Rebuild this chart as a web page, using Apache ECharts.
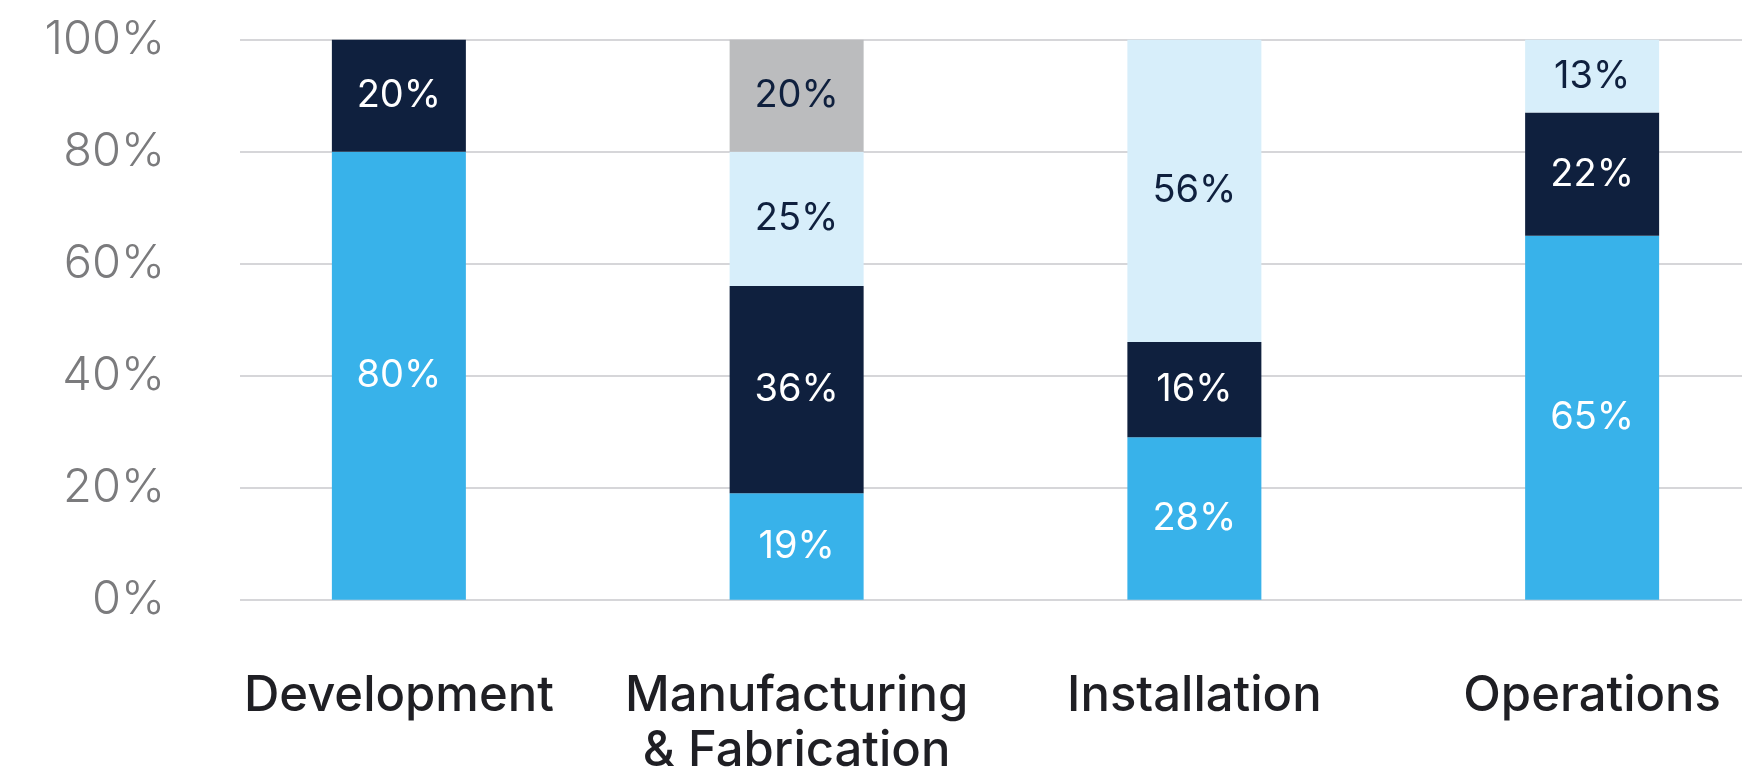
<!DOCTYPE html>
<html>
<head>
<meta charset="utf-8">
<script src="https://cdn.jsdelivr.net/npm/echarts@6/dist/echarts.min.js"></script>
<style>
html,body{margin:0;padding:0;background:#fff;}
#chart{width:1742px;height:779px;}
</style>
</head>
<body>
<div id="chart"></div>
<script>
// ---- data ----
var categories = ['Development', 'Manufacturing\n& Fabrication', 'Installation', 'Operations'];
var yTicks = [0, 20, 40, 60, 80, 100];
// bar segment sizes (% of bar)
var blueValues  = [80, 19, 29, 65];
var navyValues  = [20, 37, 17, 22];
var paleValues  = [null, 24, 54, 13];
var greyValues  = [null, 20, null, null];
// printed labels on the segments
var blueLabels  = [80, 19, 28, 65];
var navyLabels  = [20, 36, 16, 22];
var paleLabels  = [null, 25, 56, 13];
var greyLabels  = [null, 20, null, null];

var FONT = 'Inter, "Noto Sans", sans-serif';
var chart = echarts.init(document.getElementById('chart'));

function seg(name, values, labels, color, textColor) {
  return {
    name: name,
    type: 'bar',
    stack: 'total',
    xAxisIndex: 1,
    yAxisIndex: 1,
    barWidth: 134,
    data: values,
    itemStyle: { color: color },
    label: {
      show: true,
      position: 'inside',
      color: textColor,
      fontFamily: FONT,
      fontSize: 38,
      fontWeight: 400,
      formatter: function (p) {
        var v = labels[p.dataIndex];
        return v == null ? '' : v + '%';
      }
    },
    emphasis: { disabled: true }
  };
}

chart.setOption({
  animation: false,
  backgroundColor: '#ffffff',
  grid: [
    { left: 240, right: 0, top: 39.7, bottom: 179.3, outerBoundsMode: 'none', containLabel: false },
    { left: 200, width: 1591, top: 39.7, bottom: 179.3, outerBoundsMode: 'none', containLabel: false }
  ],
  xAxis: [
    { gridIndex: 0, type: 'value', show: false, min: 0, max: 1 },
    {
      gridIndex: 1,
      type: 'category',
      data: categories,
      axisLine: { show: false },
      axisTick: { show: false },
      axisLabel: {
        margin: 69,
        color: '#1f1f24',
        fontFamily: FONT,
        fontSize: 49,
        fontWeight: 500,
        lineHeight: 55,
        interval: 0
      }
    }
  ],
  yAxis: [
    {
      gridIndex: 0,
      type: 'value',
      min: yTicks[0],
      max: yTicks[yTicks.length - 1],
      interval: 20,
      axisLine: { show: false },
      axisTick: { show: false },
      splitLine: { show: true, lineStyle: { color: '#c9c9cc', width: 1.5 } },
      axisLabel: {
        margin: 75,
        color: '#7b7b7d',
        fontFamily: FONT,
        fontSize: 47,
        fontWeight: 300,
        formatter: '{value}%'
      }
    },
    {
      gridIndex: 1,
      type: 'value',
      min: 0,
      max: 100,
      show: false
    }
  ],
  series: [
    seg('Segment 1', blueValues, blueLabels, '#38b2ea', '#ffffff'),
    seg('Segment 2', navyValues, navyLabels, '#0f203e', '#ffffff'),
    seg('Segment 3', paleValues, paleLabels, '#d7eefa', '#0f203e'),
    seg('Segment 4', greyValues, greyLabels, '#bbbcbe', '#0f203e')
  ]
});
</script>
</body>
</html>
